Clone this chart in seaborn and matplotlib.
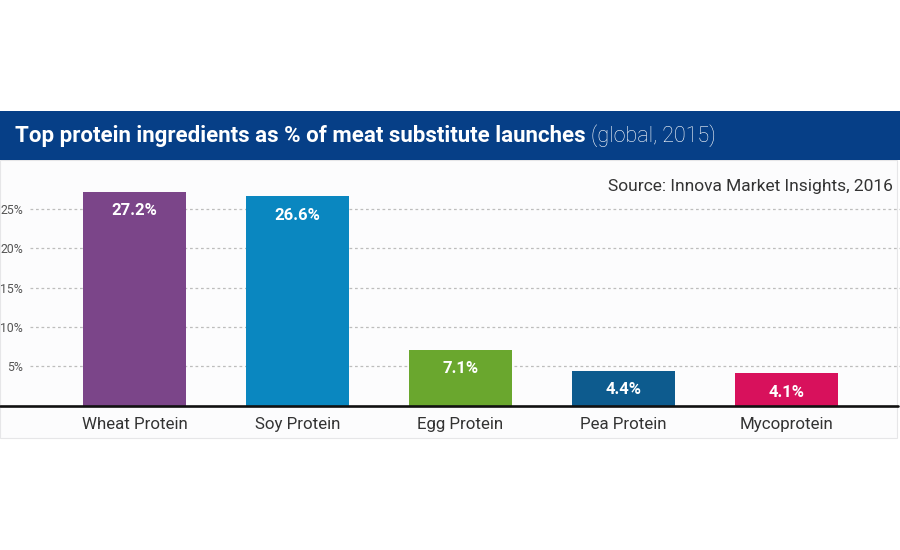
import matplotlib
matplotlib.use("Agg")
import matplotlib.pyplot as plt
import seaborn as sns
import pandas as pd
from matplotlib.patches import Rectangle
from matplotlib.lines import Line2D

categories = ["Wheat Protein", "Soy Protein", "Egg Protein", "Pea Protein", "Mycoprotein"]
values = [27.2, 26.6, 7.1, 4.4, 4.1]
value_labels = ["27.2%", "26.6%", "7.1%", "4.4%", "4.1%"]
colors = ["#7b4589", "#0a87c0", "#6aa72e", "#0d5b8e", "#d8115c"]
yticks = [5, 10, 15, 20, 25]
ytick_labels = ["5%", "10%", "15%", "20%", "25%"]
title_bold = "Top protein ingredients as % of meat substitute launches"
title_light = "(global, 2015)"
source = "Source: Innova Market Insights, 2016"

sns.set_style("white")
plt.rcParams["font.family"] = ["Roboto", "DejaVu Sans"]

W, H = 900, 550
fig = plt.figure(figsize=(9, 5.5), dpi=100)
fig.patch.set_facecolor("white")

def fx(px):
    return px / W

def fy(py):
    return 1 - py / H

# chart panel background
fig.patches.append(Rectangle((fx(0), fy(438)), fx(897), (438 - 160) / H,
                             transform=fig.transFigure, facecolor="#fcfcfd",
                             edgecolor="#e6e6e8", linewidth=0.8, zorder=-2))
# title banner
fig.patches.append(Rectangle((0, fy(160.5)), 1, 49.5 / H, transform=fig.transFigure,
                             facecolor="#063f87", edgecolor="none", zorder=-1))

base_y = 405.5
top_y = 160
px_per_unit = 7.86
ax_left, ax_right = 30, 900
ax = fig.add_axes([fx(ax_left), fy(base_y), fx(ax_right - ax_left), (base_y - top_y) / H])
ax.set_facecolor("none")
ax.set_zorder(2)

df = pd.DataFrame({"cat": categories, "val": values})
sns.barplot(data=df, x="cat", y="val", hue="cat", palette=colors, order=categories,
            hue_order=categories, width=0.63, legend=False, ax=ax, saturation=1,
            edgecolor="none", zorder=3)

spacing = 163.0
first_center = 134.5
ax.set_xlim((ax_left - first_center) / spacing, (ax_right - first_center) / spacing)
ax.set_ylim(0, (base_y - top_y) / px_per_unit)

ax.set_yticks(yticks)
ax.set_yticklabels(ytick_labels)
ax.tick_params(axis="y", length=0, pad=5, labelsize=8.8, labelcolor="#555555")
ax.tick_params(axis="x", length=0, pad=8.5, labelsize=12.2, labelcolor="#333333")
ax.set_xlabel("")
ax.set_ylabel("")
ax.yaxis.grid(True, linestyle=(0, (2.2, 2.2)), color="#bdbdbd", linewidth=0.9)
ax.set_axisbelow(True)
for s in ax.spines.values():
    s.set_visible(False)

for i, (v, lab) in enumerate(zip(values, value_labels)):
    ax.annotate(lab, (i, v), xytext=(0, -13.5), textcoords="offset points",
                ha="center", va="center", color="white", fontsize=12,
                fontweight="bold", zorder=5)

# baseline across the panel
fig.lines.append(Line2D([fx(0), fx(898)], [fy(base_y), fy(base_y)],
                        transform=fig.transFigure, color="#111111", linewidth=1.9, zorder=6))

# title
t1 = fig.text(fx(15), fy(136), title_bold, color="white", fontsize=16,
              fontweight="bold", va="center", ha="left", zorder=5)
fig.canvas.draw()
bb = t1.get_window_extent(renderer=fig.canvas.get_renderer())
fig.text(bb.x1 / W + fx(5), fy(136), title_light, color="white", fontsize=15.5,
         fontweight="light", va="center", ha="left", zorder=5)

fig.text(fx(893), fy(186), source, color="#333333", fontsize=12.5,
         ha="right", va="center", zorder=5)

fig.savefig("out.png", dpi=100, facecolor="white")
